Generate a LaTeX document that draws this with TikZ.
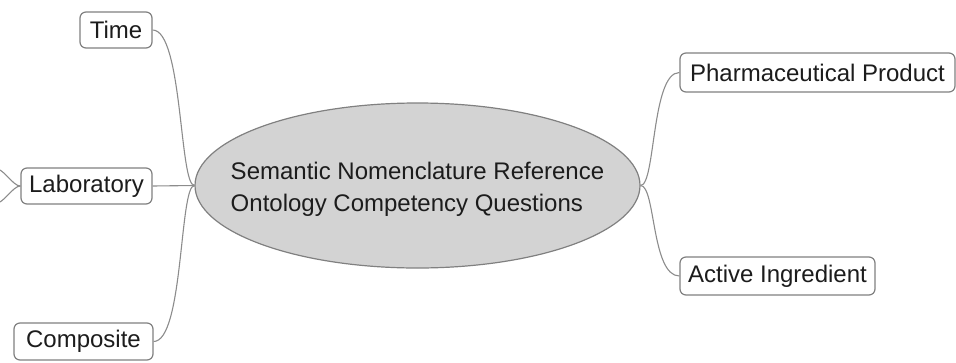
\documentclass[tikz,border=0pt]{standalone}
\usepackage{fontspec}
\setmainfont{Liberation Sans}
\usetikzlibrary{shapes.geometric}
\definecolor{edgegray}{HTML}{8C8C8C}
\definecolor{boxgray}{HTML}{808080}
\definecolor{hubfill}{HTML}{D3D3D3}
\definecolor{inkdark}{HTML}{1C1C1C}
\begin{document}
\begin{tikzpicture}[x=1pt,y=-1pt,
  topic/.style={draw=boxgray, line width=1.2pt, fill=white, rounded corners=6pt,
    inner sep=0pt, text=inkdark, font=\fontsize{24}{28}\selectfont},
  hub/.style={ellipse, draw=boxgray, line width=1.2pt, fill=hubfill,
    inner sep=0pt, minimum width=445pt, minimum height=165pt},
  hubtext/.style={inner sep=0pt, text=inkdark, align=left,
    font=\fontsize{24}{32}\selectfont},
  link/.style={draw=edgegray, line width=1.1pt}]
  \useasboundingbox (0,0) rectangle (956,362);
  \clip (0,0) rectangle (956,362);

  % central topic
  \node[hub] (hub) at (417.5,185.5) {};
  \node[hubtext] (hublabel) at ([yshift=-4pt]hub.center) {Semantic Nomenclature Reference\\Ontology Competency Questions};

  % branch topics
  \node[topic, minimum width=72pt, minimum height=36pt] (time) at (116,30) {Time};
  \node[topic, minimum width=131pt, minimum height=36pt] (lab) at (86.5,186) {Laboratory};
  \node[topic, minimum width=139pt, minimum height=37pt] (comp) at (83.5,341.5) {Composite};
  \node[topic, minimum width=275pt, minimum height=39pt] (pharm) at (817.5,72.5) {Pharmaceutical Product};
  \node[topic, minimum width=195pt, minimum height=38pt] (ingr) at (777.5,276) {Active Ingredient};

  % connectors
  \draw[link] (hub.west) .. controls +(-15,0) and +(30,0) .. (time.east);
  \draw[link] (hub.west) -- (lab.east);
  \draw[link] (hub.west) .. controls +(-15,0) and +(30,0) .. (comp.east);
  \draw[link] (hub.east) .. controls +(15,0) and +(-28,0) .. (pharm.west);
  \draw[link] (hub.east) .. controls +(15,0) and +(-28,0) .. (ingr.west);

  % stubs of collapsed children of Laboratory
  \coordinate (labup) at (-6,168);
  \coordinate (labdn) at (-6,204);
  \draw[link] (lab.west) .. controls +(-8,0) and +(10,0) .. (labup);
  \draw[link] (lab.west) .. controls +(-8,0) and +(10,0) .. (labdn);
\end{tikzpicture}
\end{document}
